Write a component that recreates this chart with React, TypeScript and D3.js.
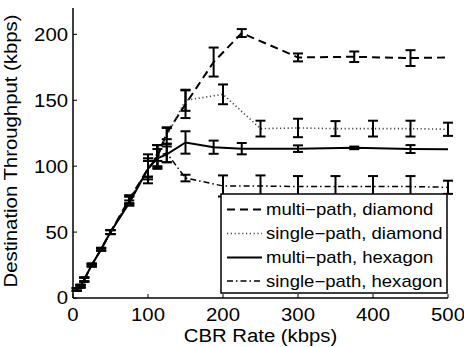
import React from "react";
import * as d3 from "d3";

// CBR rate sample points (kbps)
const lowRates = [5, 10, 15, 25, 37.5, 50, 75, 100, 112.5, 125];
const multiRates = [...lowRates, 150, 187.5, 225, 300, 375, 450, 500];
const singleRates = [...lowRates, 150, 200, 250, 300, 350, 400, 450, 500];

// multi-path, diamond
const multiDiamond = [6.5, 9, 14, 25, 37, 50, 75, 98, 107, 125, 147, 179, 201, 182.5, 183, 182, 182.5];
const multiDiamondErr = [1, 1, 1.5, 1, 1, 1.5, 3, 11, 9, 4.5, 10.5, 11, 3, 3, 4, 6, 0];
// single-path, diamond
const singleDiamond = [6.5, 9, 14, 25, 37, 50, 74, 98, 110, 123, 150, 154.5, 128.5, 129, 128.5, 128.5, 128.5, 128];
const singleDiamondErr = [1, 1, 1.5, 1, 1, 1.5, 3, 6, 6, 6, 8, 7.5, 6, 7, 5.7, 6, 6, 5];
// multi-path, hexagon
const multiHexagon = [6.5, 9, 14, 25, 37, 50, 72, 98, 106, 109, 118, 114.4, 113.3, 113.3, 113.9, 113, 112.8];
const multiHexagonErr = [1, 1, 1.5, 1, 1, 1.5, 2, 6, 7, 6, 8.5, 5, 4.3, 2.5, 1, 3, 0];
// single-path, hexagon
const singleHexagon = [6.5, 9, 14, 25, 37, 50, 74, 98, 108, 110, 91, 85, 85, 84.5, 84.5, 84.5, 84.5, 84];
const singleHexagonErr = [1, 1, 1.5, 1, 1, 1.5, 3, 8, 8, 7, 2.5, 8, 8, 8, 8, 8, 8, 5];

const xTicks = [0, 100, 200, 300, 400, 500];
const yTicks = [0, 50, 100, 150, 200];

const W = 464;
const H = 347;
const left = 73;
const right = 448;
const top = 8;
const bottom = 298;
const font = "'Liberation Sans', Arial, Helvetica, sans-serif";
const stretch = 1.13; // the figure's text is a bit wider than plain Arial

const series = [
  { label: "multi\u2212path, diamond", xs: multiRates, ys: multiDiamond, err: multiDiamondErr, dash: "8,5", width: 2, color: "#000" },
  { label: "single\u2212path, diamond", xs: singleRates, ys: singleDiamond, err: singleDiamondErr, dash: "1.2,2.6", width: 1.6, color: "#444" },
  { label: "multi\u2212path, hexagon", xs: multiRates, ys: multiHexagon, err: multiHexagonErr, dash: "none", width: 2, color: "#000" },
  { label: "single\u2212path, hexagon", xs: singleRates, ys: singleHexagon, err: singleHexagonErr, dash: "6,3,1.5,3", width: 1.5, color: "#000" },
];

// text drawn at (x, y), widened along its own direction
function T({ x, y, rotate = 0, size = 18, anchor = "start", dy = "0", children }: any) {
  return (
    <text
      transform={`translate(${x},${y}) rotate(${rotate}) scale(${stretch},1)`}
      textAnchor={anchor}
      dy={dy}
      fontFamily={font}
      fontSize={size}
      fill="#000"
    >
      {children}
    </text>
  );
}

export default function App() {
  const x = d3.scaleLinear().domain([0, 500]).range([left, right]);
  const y = d3.scaleLinear().domain([0, 220]).range([bottom, top]);
  const line = d3
    .line<[number, number]>()
    .x((d) => x(d[0]))
    .y((d) => y(d[1]));

  // legend box
  const lg = { x0: 221, y0: 194, x1: 447, y1: 293 };
  const rowY = [209.5, 233.5, 257.5, 281];

  return (
    <svg width={W} height={H} style={{ position: "absolute", left: 0, top: 0, background: "#fff" }}>
      <rect x={0} y={0} width={W} height={H} fill="#fff" />
      {series.map((s, i) => (
        <g key={i}>
          <path
            d={line(s.xs.map((v, j) => [v, s.ys[j]] as [number, number])) || ""}
            fill="none"
            stroke={s.color}
            strokeWidth={s.width}
            strokeDasharray={s.dash}
          />
          {s.xs.map((v, j) =>
            s.err[j] > 0 ? (
              <g key={j} stroke="#000" strokeWidth={2}>
                <line x1={x(v)} x2={x(v)} y1={y(s.ys[j] - s.err[j])} y2={y(s.ys[j] + s.err[j])} />
                <line x1={x(v) - 5} x2={x(v) + 5} y1={y(s.ys[j] - s.err[j])} y2={y(s.ys[j] - s.err[j])} />
                <line x1={x(v) - 5} x2={x(v) + 5} y1={y(s.ys[j] + s.err[j])} y2={y(s.ys[j] + s.err[j])} />
              </g>
            ) : null
          )}
        </g>
      ))}

      {/* axes */}
      <line x1={left} x2={left} y1={top} y2={bottom} stroke="#000" strokeWidth={1.5} />
      <line x1={left} x2={right} y1={bottom} y2={bottom} stroke="#000" strokeWidth={1.5} />
      {xTicks.map((t) => (
        <g key={"x" + t}>
          <line x1={x(t)} x2={x(t)} y1={bottom} y2={bottom - 4} stroke="#000" strokeWidth={1} />
          <T x={x(t)} y={321} anchor="middle">
            {t}
          </T>
        </g>
      ))}
      {yTicks.map((t) => (
        <g key={"y" + t}>
          <line x1={left} x2={left + 4} y1={y(t)} y2={y(t)} stroke="#000" strokeWidth={1} />
          <T x={68} y={y(t)} dy="0.36em" anchor="end">
            {t}
          </T>
        </g>
      ))}
      <T x={(left + right) / 2} y={341.5} anchor="middle">
        CBR Rate (kbps)
      </T>
      <T x={17} y={151} rotate={-90} anchor="middle">
        Destination Throughput (kbps)
      </T>

      {/* legend */}
      <rect x={lg.x0} y={lg.y0} width={lg.x1 - lg.x0} height={lg.y1 - lg.y0} fill="#fff" stroke="#000" strokeWidth={1.5} />
      {series.map((s, i) => (
        <g key={"l" + i}>
          <line
            x1={227}
            x2={262}
            y1={rowY[i]}
            y2={rowY[i]}
            stroke={s.color}
            strokeWidth={s.width}
            strokeDasharray={s.dash}
          />
          <T x={266} y={rowY[i]} dy="0.36em" size={16.4}>
            {s.label}
          </T>
        </g>
      ))}
    </svg>
  );
}
